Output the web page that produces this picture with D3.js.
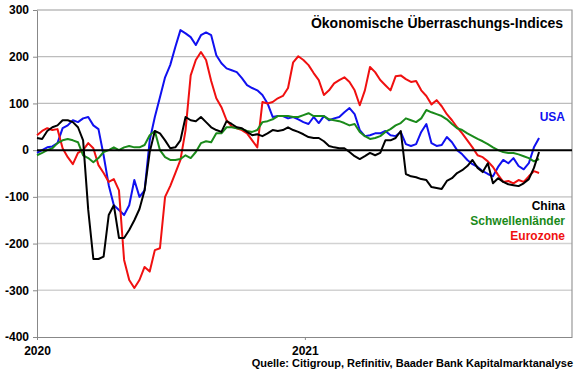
<!DOCTYPE html>
<html>
<head>
<meta charset="utf-8">
<script src="https://cdn.jsdelivr.net/npm/d3@7"></script>
<style>
  body { margin: 0; background: #fff; }
  svg { display: block; font-family: "Liberation Sans", Arial, sans-serif; }
  .axis text { font-size: 12px; font-weight: bold; fill: #000; }
  .axis path, .axis line { stroke: #888; }
</style>
</head>
<body>
<svg id="chart" width="580" height="375"></svg>
<script>
// Weekly readings from 2020-01-01 onwards
const startDate = new Date(2020, 0, 1);
const weeks = d3.range(99).map((i) => d3.timeDay.offset(startDate, 7 * i));

const usa = [-6, 0, 6, 8, 15, 47, 53, 64, 60, 68, 71, 53, 45, -11, -75, -118, -128, -139, -118, -64,
  -100, -86, 21, 71, 113, 156, 182, 221, 257, 250, 242, 225, 246, 252, 246, 203, 186, 175, 171, 167,
  154, 139, 133, 128, 118, 100, 71, 73, 73, 68, 71, 66, 60, 56, 71, 58, 73, 64, 68, 71,
  81, 90, 77, 43, 30, 32, 36, 36, 41, 32, 30, 39, 13, 9, 13, 39, 56, 15, 9, 11,
  28, 17, 0, -9, -21, -30, -36, -45, -51, -56, -36, -21, -28, -17, -34, -41, -28, 6, 26];

const eurozone = [32, 41, 47, 43, 45, 4, -15, -30, -6, 0, 15, 4, -32, -49, -68, -62, -86, -235, -278, -295,
  -278, -250, -260, -214, -210, -100, -77, -49, -21, 43, 160, 193, 210, 193, 148, 111, 92, 64, 51, 47,
  43, 36, 21, 6, 103, 100, 103, 111, 116, 133, 188, 201, 193, 182, 165, 150, 118, 128, 143, 150,
  156, 146, 128, 96, 128, 178, 167, 150, 139, 128, 158, 160, 152, 146, 148, 128, 116, 98, 107, 94,
  77, 64, 49, 36, 21, 6, -11, -15, -24, -36, -53, -68, -66, -71, -64, -68, -56, -45, -49];

const schwellen = [-11, -6, 0, 4, 15, 21, 24, 21, 17, -11, -17, -26, -17, -4, 0, 6, 0, 6, 9, 6,
  6, 11, 32, 41, 0, -15, -21, -21, -19, -11, -17, -4, 15, 19, 17, 36, 36, 49, 49, 47,
  45, 41, 39, 43, 60, 62, 66, 73, 73, 73, 71, 71, 75, 79, 73, 73, 73, 66, 64, 62,
  58, 53, 56, 39, 30, 24, 26, 30, 39, 45, 53, 58, 68, 64, 60, 68, 86, 81, 77, 73,
  66, 56, 47, 43, 36, 30, 24, 19, 13, 6, 0, -4, -6, -6, -9, -13, -17, -24, -19];

const china = [26, 24, 41, 49, 53, 64, 64, 60, 49, 21, -128, -233, -233, -228, -139, -118, -188, -188, -171, -150,
  -126, -86, -4, 41, 36, 21, 4, 6, 21, 71, 64, 62, 71, 60, 49, 43, 39, 62, 56, 49,
  47, 39, 32, 34, 30, 36, 43, 41, 43, 49, 43, 39, 34, 28, 26, 26, 19, 9, 6, 4,
  4, -4, -13, -19, -13, -6, -11, -6, 21, 21, 26, 41, -51, -56, -58, -62, -64, -79, -81, -83,
  -66, -60, -49, -43, -34, -21, -38, -47, -28, -71, -60, -68, -73, -75, -77, -71, -62, -38, -4];

const yTicks = [300, 200, 100, 0, -100, -200, -300, -400];
const xTicks = [new Date(2020, 0, 1), new Date(2021, 0, 1)];

const series = [
  { name: "USA", values: usa, color: "#1010f0", labelY: 121 },
  { name: "Eurozone", values: eurozone, color: "#f01010", labelY: 240 },
  { name: "Schwellenländer", values: schwellen, color: "#1a8a1a", labelY: 225 },
  { name: "China", values: china, color: "#000000", labelY: 210 },
];

const svg = d3.select("#chart");
const m = { left: 37, right: 572, top: 10, bottom: 337 };

const x = d3.scaleTime()
  .domain([new Date(2020, 0, 1), new Date(2022, 0, 1)])
  .range([m.left, m.right]);
const y = d3.scaleLinear().domain([-400, 300]).range([m.bottom, m.top]);

// Gridlines
svg.append("g")
  .selectAll("line")
  .data(yTicks.filter((d) => d !== 0 && d !== -400 && d !== 300))
  .join("line")
  .attr("x1", m.left)
  .attr("x2", m.right)
  .attr("y1", (d) => y(d))
  .attr("y2", (d) => y(d))
  .attr("stroke", (d) => (d < 0 ? "#d2d2d2" : "#bdbdbd"))
  .attr("stroke-width", (d) => (d < 0 ? 1.6 : 1.2));

// Frame: top and right
svg.append("path")
  .attr("d", `M${m.left},${y(300)}H${m.right}V${m.bottom}`)
  .attr("fill", "none")
  .attr("stroke", "#999")
  .attr("stroke-width", 1.2);

// Axes
svg.append("g")
  .attr("class", "axis")
  .attr("transform", `translate(${m.left},0)`)
  .call(d3.axisLeft(y).tickValues(yTicks).tickSize(4).tickSizeOuter(0).tickPadding(4).tickFormat((d) => String(d)));

svg.append("g")
  .attr("class", "axis")
  .attr("transform", `translate(0,${m.bottom})`)
  .call(d3.axisBottom(x).tickValues(xTicks).tickSize(3).tickSizeOuter(0).tickPadding(6).tickFormat(d3.timeFormat("%Y")));

// Series
const line = d3.line()
  .x((d, i) => x(weeks[i]))
  .y((d) => y(d));

svg.append("g")
  .selectAll("path")
  .data(series)
  .join("path")
  .attr("d", (s) => line(s.values))
  .attr("fill", "none")
  .attr("stroke", (s) => s.color)
  .attr("stroke-width", 2)
  .attr("stroke-linejoin", "round");

// Zero line
svg.append("line")
  .attr("x1", m.left).attr("x2", m.right)
  .attr("y1", y(0)).attr("y2", y(0))
  .attr("stroke", "#000")
  .attr("stroke-width", 2);

// Series labels
svg.append("g")
  .selectAll("text")
  .data(series)
  .join("text")
  .attr("x", 565)
  .attr("y", (s) => s.labelY)
  .attr("text-anchor", "end")
  .attr("font-size", 12)
  .attr("font-weight", "bold")
  .attr("fill", (s) => s.color)
  .text((s) => s.name);

// Title and source
svg.append("text")
  .attr("x", 563)
  .attr("y", 28)
  .attr("text-anchor", "end")
  .attr("font-size", 14)
  .attr("font-weight", "bold")
  .text("Ökonomische Überraschungs-Indices");

svg.append("text")
  .attr("x", 573)
  .attr("y", 367)
  .attr("text-anchor", "end")
  .attr("font-size", 11)
  .attr("font-weight", "bold")
  .text("Quelle: Citigroup, Refinitiv, Baader Bank Kapitalmarktanalyse");
</script>
</body>
</html>
